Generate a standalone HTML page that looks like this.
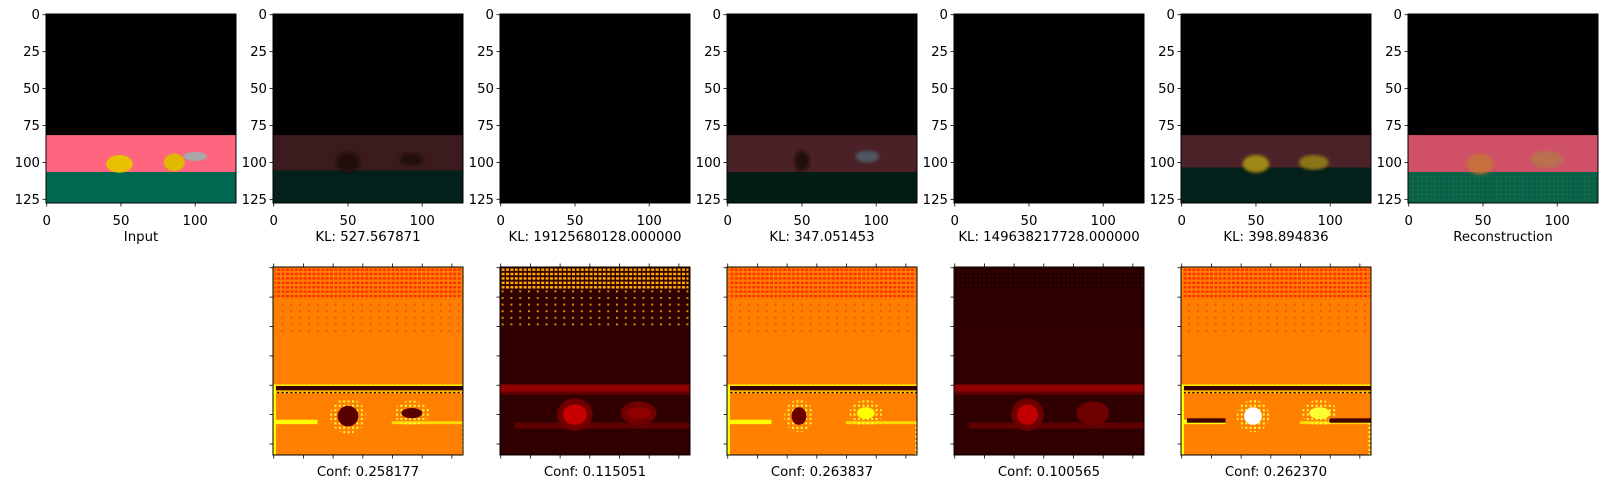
<!DOCTYPE html>
<html><head><meta charset="utf-8">
<style>
html,body{margin:0;padding:0;background:#fff;}
svg{display:block;}
text{font-family:"DejaVu Sans","Liberation Sans",sans-serif;fill:#000;}
</style></head>
<body>
<svg id="fig" width="1621" height="499" viewBox="0 0 1621 499" xmlns="http://www.w3.org/2000/svg">
<defs>
<pattern id="dotsRed" width="4.4" height="4.4" patternUnits="userSpaceOnUse"><rect width="3" height="2.5" fill="#ff3000"/></pattern>
<pattern id="dotsRedSparse" width="8.8" height="6.6" patternUnits="userSpaceOnUse"><rect width="2" height="2" fill="#ff3000"/></pattern>
<pattern id="dotsYel" width="4.4" height="4.4" patternUnits="userSpaceOnUse"><rect width="3" height="2.5" fill="#ffa800"/></pattern>
<pattern id="dotsYelSparse" width="8.8" height="6.6" patternUnits="userSpaceOnUse"><rect width="2" height="2" fill="#ffb000"/></pattern>
<pattern id="dotsBlk" width="4.4" height="4.4" patternUnits="userSpaceOnUse"><rect width="2" height="2" fill="#100000"/></pattern>
<pattern id="dotsGrn" width="4.4" height="4.4" patternUnits="userSpaceOnUse"><rect width="1.5" height="1.5" fill="#1a8a3a" opacity="0.6"/></pattern>
<pattern id="dotsYel2" width="4.4" height="4.4" patternUnits="userSpaceOnUse"><rect width="2" height="2" fill="#ffff40"/></pattern>
<filter id="blur1"><feGaussianBlur stdDeviation="1.5"/></filter>
</defs>
</svg>
<script>
// ---- data ----
const topLabels = ["Input","KL: 527.567871","KL: 19125680128.000000","KL: 347.051453","KL: 149638217728.000000","KL: 398.894836","Reconstruction"];
const confLabels = ["Conf: 0.258177","Conf: 0.115051","Conf: 0.263837","Conf: 0.100565","Conf: 0.262370"];
const yTicks = [0,25,50,75,100,125];
const xTicks = [0,50,100];
const hmTicks = [0,20,40,60,80,100,120];
const imgSize = 128;

const NS = "http://www.w3.org/2000/svg";
const svg = document.getElementById('fig');
const panelX0 = 46, panelStep = 227, panelW = 190;
const topY = 14, topH = 189;
const botY = 267, botH = 188;

function mk(tag, attrs, parent){
  const e = document.createElementNS(NS, tag);
  for (const k in attrs) e.setAttribute(k, attrs[k]);
  (parent||svg).appendChild(e);
  return e;
}
function scaler(x0,y0,w,h){
  return {x:v=>x0+(v+0.5)/imgSize*w, y:v=>y0+(v+0.5)/imgSize*h, sx:v=>v/imgSize*w, sy:v=>v/imgSize*h};
}
function rectD(g,s,x1,y1,x2,y2,fill,extra){
  return mk('rect',Object.assign({x:s.x(x1-0.5),y:s.y(y1-0.5),width:s.sx(x2-x1),height:s.sy(y2-y1),fill:fill},extra||{}),g);
}
function ellD(g,s,cx,cy,rx,ry,fill,extra){
  return mk('ellipse',Object.assign({cx:s.x(cx),cy:s.y(cy),rx:s.sx(rx),ry:s.sy(ry),fill:fill},extra||{}),g);
}

const scenes = [
  {band:"#fe6680", ground:"#006750", blobs:[[49,101,9,6,"#e8c000"],[86,100,7,6,"#e0b800"],[100,96,8,3,"#a8a8a8"]], grdTop:107},
  {band:"#3b1b1e", ground:"#03201a", blobs:[[50,100,8,7,"#220f10"],[93,98,8,4,"#220f10"]], grdTop:106},
  {band:null},
  {band:"#4a2127", ground:"#041c16", blobs:[[50,99,5,7,"#200c0e"],[94,96,8,4,"#505562"]], grdTop:107},
  {band:null},
  {band:"#4b2228", ground:"#03201a", blobs:[[50,101,9,6,"#a08812"],[89,100,10,5,"#8a7614"]], grdTop:104},
  {band:"#d05068", ground:"#0a6048", blobs:[[48,101,9,7,"#c8703c"],[93,98,11,6,"#b87050"]], grdTop:107}
];

for (let i=0;i<7;i++){
  const x0 = panelX0 + i*panelStep;
  const g = mk('g',{});
  
  
  const s = scaler(x0,topY,panelW,topH);
  mk('rect',{x:x0,y:topY,width:panelW,height:topH,fill:"#000"},g);
  const sc = scenes[i];
  if (sc.band){
    rectD(g,s,0,82,128,sc.grdTop,sc.band);
    rectD(g,s,0,sc.grdTop,128,128,sc.ground);
    sc.blobs.forEach(b=>ellD(g,s,b[0],b[1],b[2],b[3],b[4],i===0?{}:{filter:"url(#blur1)"}));
    if (i===6) rectD(g,s,0,sc.grdTop,128,128,"url(#dotsGrn)");
  }
  mk('rect',{x:x0,y:topY,width:panelW,height:topH,fill:"none",stroke:"#000","stroke-width":1},g);
  yTicks.forEach(t=>{
    const y = s.y(t);
    mk('line',{x1:x0-3.5,x2:x0,y1:y,y2:y,stroke:"#000","stroke-width":0.8},g);
    const tl = mk('text',{x:x0-6,y:y+4.5,"text-anchor":"end","font-size":"13.3"},g);
    tl.textContent = t;
    
    
  });
  xTicks.forEach(t=>{
    const x = s.x(t);
    mk('line',{x1:x,x2:x,y1:topY+topH,y2:topY+topH+3.5,stroke:"#000","stroke-width":0.8},g);
    const tl = mk('text',{x:x,y:225,"text-anchor":"middle","font-size":"13.3"},g);
    tl.textContent = t;
    
    
  });
  const lab = mk('text',{x:x0+panelW/2,y:241,"text-anchor":"middle","font-size":"13.3"},g);
  lab.textContent = topLabels[i];
  
  
}

const hmStyles = [
  {bg:"#ff8000", hot:true, blobs:[[50,101,7,7,"#5a0000"],[93,99,7,3.5,"#5a0000"]]},
  {bg:"#300000", hot:false, blobs:[[50,100,8,7,"#c80000"],[93,99,8,4,"#900000"]]},
  {bg:"#ff8000", hot:true, blobs:[[48,101,5,6,"#6a0000"],[93,99,6,4,"#ffff00"]]},
  {bg:"#300000", hot:false, blobs:[[49,100,7,7,"#c00000"],[93,99,7,4,"#700000"]]},
  {bg:"#ff8000", hot:true, blobs:[[48,101,6,6,"#ffffff"],[93,99,7,4,"#ffff30"]], stripe:true}
];
for (let j=0;j<5;j++){
  const x0 = panelX0 + (j+1)*panelStep;
  const g = mk('g',{});
  
  
  const s = scaler(x0,botY,panelW,botH);
  const st = hmStyles[j];
  mk('rect',{x:x0,y:botY,width:panelW,height:botH,fill:st.bg},g);
  if (st.hot){
    rectD(g,s,1,1,127,22,"url(#dotsRed)");
    rectD(g,s,1,22,127,45,"url(#dotsRedSparse)",{opacity:0.6});
    rectD(g,s,0,80,128,81,"#ffff00");
    rectD(g,s,0,81,128,84,"#3a0000");
    rectD(g,s,0,84,128,86,"#ffff00",{opacity:0.5});
    rectD(g,s,0,85,128,86,"url(#dotsBlk)");
    rectD(g,s,0,104,30,107,"#ffff00");
    rectD(g,s,80,105,128,107,"#ffff00",{opacity:0.7});
    rectD(g,s,0,80,2,128,"#ffff00");
    rectD(g,s,126,106,128,128,"url(#dotsYel2)");
    st.blobs.forEach(b=>{
      ellD(g,s,b[0],b[1],b[2]+5,b[3]+5,"url(#dotsYel2)");
      ellD(g,s,b[0],b[1],b[2],b[3],b[4]);
    });
    if (st.stripe){ rectD(g,s,4,103,30,106,"#400000"); rectD(g,s,100,103,128,106,"#400000"); }
  } else {
    rectD(g,s,1,1,127,15,j===1?"url(#dotsYel)":"url(#dotsBlk)");
    rectD(g,s,1,15,127,40,j===1?"url(#dotsYelSparse)":"url(#dotsBlk)",{opacity:j===1?0.8:0.4});
    rectD(g,s,0,80,128,85,"#900000");
    rectD(g,s,0,85,128,87,"#600000");
    rectD(g,s,10,106,128,110,"#600000");
    st.blobs.forEach(b=>{
      ellD(g,s,b[0],b[1],b[2]+4,b[3]+4,"#700000");
      ellD(g,s,b[0],b[1],b[2],b[3],b[4]);
    });
  }
  mk('rect',{x:x0,y:botY,width:panelW,height:botH,fill:"none",stroke:"#000","stroke-width":1},g);
  hmTicks.forEach(t=>{
    const y = s.y(t), x = s.x(t);
    mk('line',{x1:x0-3.5,x2:x0,y1:y,y2:y,stroke:"#000","stroke-width":0.8},g);
    mk('line',{x1:x,x2:x,y1:botY,y2:botY-3.5,stroke:"#000","stroke-width":0.8},g);
    mk('line',{x1:x,x2:x,y1:botY+botH,y2:botY+botH+3.5,stroke:"#000","stroke-width":0.8},g);
  });
  const lab = mk('text',{x:x0+panelW/2,y:476,"text-anchor":"middle","font-size":"13.3"},g);
  lab.textContent = confLabels[j];
  
  
}
</script>
</body></html>
